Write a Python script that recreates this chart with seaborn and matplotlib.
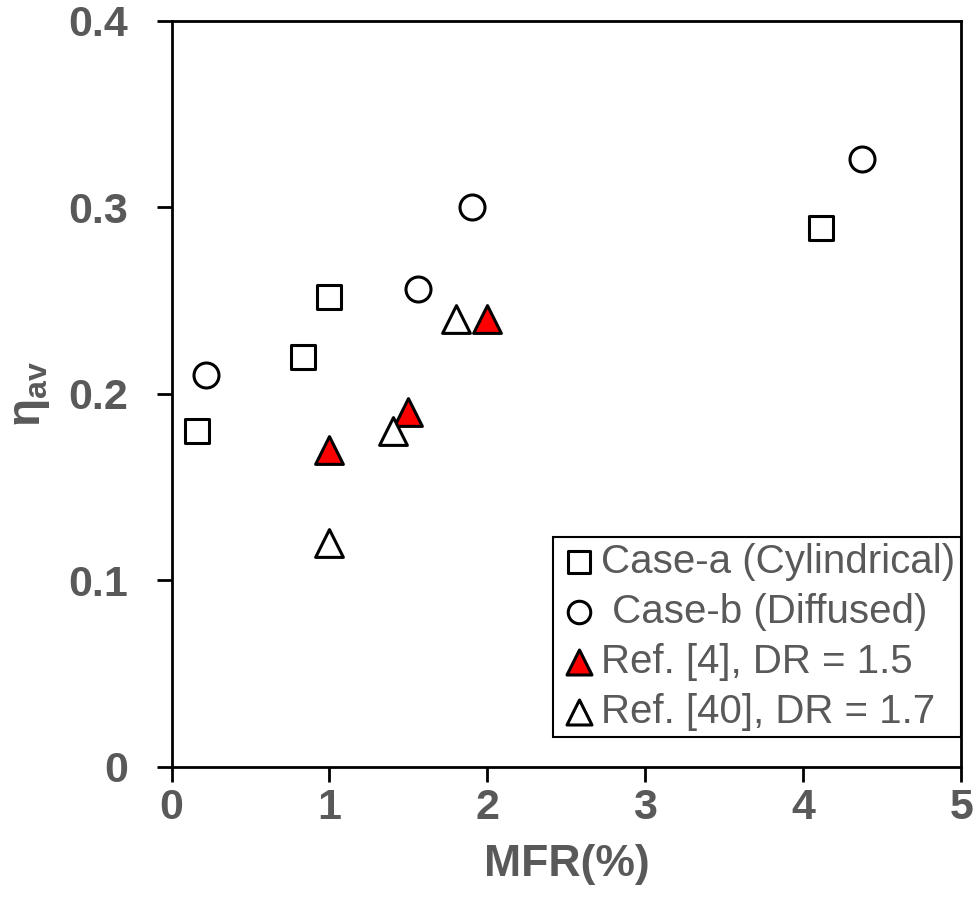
import pandas as pd; import numpy as np
import seaborn as sns; import matplotlib.pyplot as plt

# Case-a (Cylindrical)
mfr_a = [0.16, 0.83, 1.0, 4.11]
eta_a = [0.18, 0.22, 0.252, 0.289]
# Case-b (Diffused)
mfr_b = [0.22, 1.56, 1.90, 4.37]
eta_b = [0.21, 0.256, 0.30, 0.326]
# Ref. [4], DR = 1.5
mfr_r4 = [1.0, 1.5, 2.0]
eta_r4 = [0.17, 0.19, 0.24]
# Ref. [40], DR = 1.7
mfr_r40 = [1.0, 1.4, 1.8]
eta_r40 = [0.12, 0.18, 0.24]

labels = ["Case-a (Cylindrical)", " Case-b (Diffused)",
          "Ref. [4], DR = 1.5", "Ref. [40], DR = 1.7"]

sns.set_style("white")
plt.rcParams["font.family"] = ["Liberation Sans", "DejaVu Sans"]
plt.rcParams["mathtext.fontset"] = "custom"
plt.rcParams["mathtext.rm"] = "Liberation Sans:bold"
grey = "#595959"

fig = plt.figure(figsize=(9.8, 9.1), dpi=100)
ax = fig.add_axes([0.175, 0.1575, 0.806, 0.8195])

kw = dict(edgecolor="black", linewidth=2.2, ax=ax, zorder=3)
sns.scatterplot(x=mfr_a, y=eta_a, marker="s", s=17**2, color="white", label=labels[0], **kw)
sns.scatterplot(x=mfr_b, y=eta_b, marker="o", s=18**2, color="white", label=labels[1], **kw)
sns.scatterplot(x=mfr_r4, y=eta_r4, marker="^", s=20**2, color="red", label=labels[2], **kw)
sns.scatterplot(x=mfr_r40, y=eta_r40, marker="^", s=20**2, color="white", label=labels[3], **kw)

ax.set_xlim(0, 5)
ax.set_ylim(0, 0.4)
ax.set_xticks([0, 1, 2, 3, 4, 5])
ax.set_yticks([0, 0.1, 0.2, 0.3, 0.4])
ax.set_yticklabels(["0", "0.1", "0.2", "0.3", "0.4"])

for sp in ax.spines.values():
    sp.set_color("black")
    sp.set_linewidth(2)
ax.tick_params(axis="both", which="both", direction="out", length=11, width=2,
               color="black", labelsize=31, labelcolor=grey,
               bottom=True, left=True, top=False, right=False)
ax.tick_params(axis="y", pad=20)
ax.tick_params(axis="x", pad=4)
for t in ax.get_xticklabels() + ax.get_yticklabels():
    t.set_fontweight("bold")

ax.set_xlabel("MFR(%)", fontsize=32, fontweight="bold", color=grey, labelpad=12)
ax.set_ylabel(r"η$_{\mathrm{av}}$", fontsize=33, fontweight="bold", color=grey, labelpad=12)

leg = ax.legend(loc="lower right", bbox_to_anchor=(1.0, 0.04), fontsize=29,
                frameon=True, fancybox=False, edgecolor="black", framealpha=1,
                borderpad=0.15, labelspacing=0.3, handletextpad=0.05,
                handlelength=1.0, borderaxespad=0, markerscale=0.9)
leg.get_frame().set_linewidth(1.5)
for t in leg.get_texts():
    t.set_color(grey)

plt.savefig("out.png", dpi=100)
